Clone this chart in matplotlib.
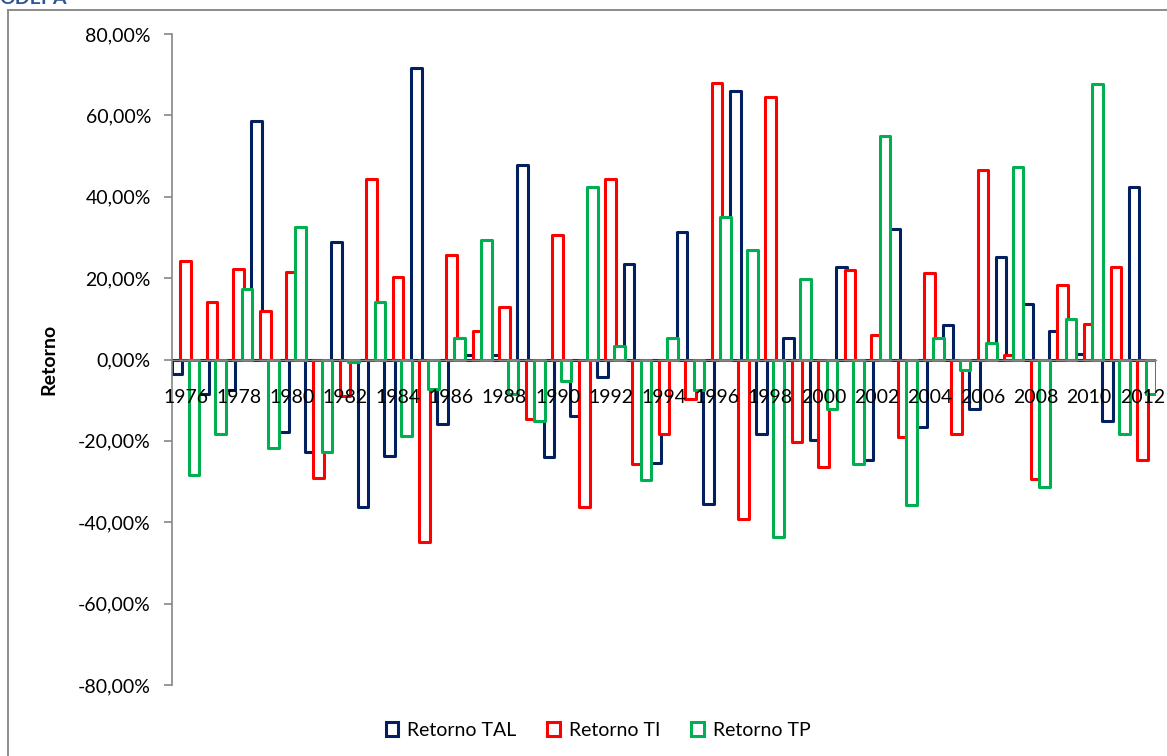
import matplotlib
matplotlib.use("Agg")
import matplotlib.pyplot as plt
from matplotlib.patches import Patch
from matplotlib.lines import Line2D
from matplotlib.ticker import FuncFormatter, FixedLocator
import numpy as np

plt.rcParams['font.family'] = ['Lato', 'DejaVu Sans']

# Annual returns (%) 1976-2012
years = list(range(1976, 2013))

retorno_tal = [-3.5, -8.4, -7.5, 58.6, -17.7, -22.8, 28.9, -36.3, -23.6, 71.7,
               -15.8, 1.0, 1.0, 47.8, -24.0, -13.8, -4.2, 23.5, -25.5, 31.3,
               -35.5, 66.0, -18.3, 5.2, -19.9, 22.7, -24.8, 32.1, -16.6, 8.5,
               -12.1, 25.2, 13.7, 7.1, 1.3, -15.0, 42.4]

retorno_ti = [24.3, 14.1, 22.3, 12.0, 21.6, -29.1, -9.0, 44.4, 20.3, -44.8,
              25.6, 6.9, 12.9, -14.6, 30.5, -36.3, 44.4, -25.7, -18.3, -9.7,
              68.0, -39.2, 64.4, -20.3, -26.5, 21.9, 5.9, -19.1, 21.2, -18.3,
              46.5, 1.2, -29.3, 18.2, 8.8, 22.7, -24.7]

retorno_tp = [-28.5, -18.3, 17.4, -21.7, 32.5, -22.8, -0.7, 14.1, -18.7, -7.2,
              5.3, 29.3, -8.4, -15.0, -5.2, 42.4, 3.2, -29.6, 5.3, -7.6,
              35.0, 26.8, -43.7, 19.8, -12.1, -25.7, 54.9, -35.7, 5.2, -2.7,
              4.0, 47.3, -31.4, 10.0, 67.6, -18.3, -8.6]

series_names = ['Retorno TAL', 'Retorno TI', 'Retorno TP']
series_colors = ['#002060', '#FF0000', '#00B050']

W, H = 1167, 756
fig = plt.figure(figsize=(W / 100, H / 100), dpi=100)
fig.patch.set_facecolor('white')

left, right = 172.2 / W, 1155.7 / W
top, bottom = 1 - 34 / H, 1 - 685 / H
ax = fig.add_axes([left, bottom, right - left, top - bottom])

x = np.arange(len(years))
bar_w = 0.40
offsets = [-0.32, 0.0, 0.32]
lw = 2.2

# later series are drawn over earlier ones (white-filled outlines)
for i, (vals, col) in enumerate(zip([retorno_tal, retorno_ti, retorno_tp], series_colors)):
    ax.bar(x + offsets[i], vals, width=bar_w, facecolor='white', edgecolor=col,
           linewidth=lw, zorder=1.0 + 0.1 * i, joinstyle='round')

ax.set_xlim(-0.5, len(years) - 0.5)
ax.set_ylim(-80, 80)

ax.yaxis.set_major_locator(FixedLocator(np.arange(-80, 81, 20)))
ax.yaxis.set_major_formatter(FuncFormatter(lambda v, p: f"{v:.2f}%".replace('.', ',')))

ax.set_xticks(x[::2])
ax.set_xticklabels([str(y) for y in years[::2]])

for s in ['top', 'right']:
    ax.spines[s].set_visible(False)
ax.spines['left'].set_color('#868686')
ax.spines['left'].set_linewidth(1.2)
ax.spines['bottom'].set_position(('data', 0))
ax.spines['bottom'].set_color('#868686')
ax.spines['bottom'].set_linewidth(1.0)
ax.spines['bottom'].set_zorder(6)

ax.tick_params(axis='y', direction='out', length=5.8, width=1.2, color='#868686',
               pad=9.5, labelsize=14, labelcolor='black')
ax.tick_params(axis='x', length=0, pad=21, labelsize=14, labelcolor='black')
# year labels sit on top of the bars
ax.xaxis.set_zorder(10)
ax.yaxis.set_zorder(10)

ax.set_ylabel('Retorno', fontsize=14, fontweight='bold')
ax.yaxis.set_label_coords((57 - 172.2) / (1155.7 - 172.2), 0.5)

handles = [Patch(facecolor='white', edgecolor=c, linewidth=2.2, label=n)
           for n, c in zip(series_names, series_colors)]
fig.legend(handles=handles, loc='center', bbox_to_anchor=(598 / W, 1 - 730 / H),
           ncol=3, frameon=False, fontsize=14, handlelength=0.65, handleheight=0.7,
           handletextpad=0.45, columnspacing=1.6)

# outer chart frame (left and top edges)
frame_col = '#8C8C8C'
fig.add_artist(Line2D([8 / W, 8 / W], [0, 1 - 10 / H], transform=fig.transFigure,
                      color=frame_col, linewidth=1.4))
fig.add_artist(Line2D([8 / W, 1], [1 - 10 / H, 1 - 10 / H], transform=fig.transFigure,
                      color=frame_col, linewidth=1.4))

# source caption sitting above the frame
fig.text(-1 / W, 1 - 4 / H, 'ODEPA', color='#2F5597', fontsize=14, fontweight='bold',
         ha='left', va='baseline')

fig.savefig('out.png', dpi=100, facecolor='white')
